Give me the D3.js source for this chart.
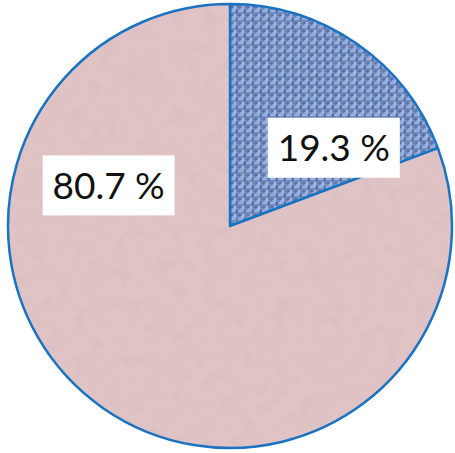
<!DOCTYPE html>
<html>
<head>
<meta charset="utf-8">
<script src="https://cdn.jsdelivr.net/npm/d3@7"></script>
<style>
  body { margin: 0; background: #fff; }
  svg { display: block; }
</style>
</head>
<body>
<div id="chart"></div>
<script>
// data
const categories = ['A', 'B'];
const values = [19.3, 80.7];
const labels = ['19.3 %', '80.7 %'];

// layout
const width = 455, height = 453;
const cx = 230, cy = 226, radius = 222;
// label box placement (angle in degrees from 12 o'clock, distance from centre)
const labelPos = [{angle: 53, dist: 130}, {angle: 288.5, dist: 128}];
const boxW = 132, boxH = 60;

const svg = d3.select('#chart').append('svg')
    .attr('width', width)
    .attr('height', height);

const defs = svg.append('defs');

// woven blue texture
const weave = defs.append('pattern')
    .attr('id', 'weave')
    .attr('patternUnits', 'userSpaceOnUse')
    .attr('width', 8).attr('height', 8);
weave.append('rect').attr('width', 8).attr('height', 8).attr('fill', '#6f89bf');
weave.append('rect').attr('x', 0).attr('y', 0).attr('width', 5).attr('height', 2).attr('fill', '#9bb3e3');
weave.append('rect').attr('x', 4).attr('y', 4).attr('width', 2).attr('height', 4).attr('fill', '#a5bdea');
weave.append('rect').attr('x', 0).attr('y', 4).attr('width', 3).attr('height', 2).attr('fill', '#58729f');
weave.append('rect').attr('x', 6).attr('y', 0).attr('width', 2).attr('height', 3).attr('fill', '#52699a');
weave.append('rect').attr('x', 2).attr('y', 6).attr('width', 2).attr('height', 2).attr('fill', '#8aa3d6');

// blotchy noise filter for a paper/cloth look
function addNoise(id, freq, rgb, alpha) {
    const f = defs.append('filter').attr('id', id)
        .attr('x', 0).attr('y', 0).attr('width', '100%').attr('height', '100%');
    f.append('feTurbulence')
        .attr('type', 'fractalNoise')
        .attr('baseFrequency', freq)
        .attr('numOctaves', 2)
        .attr('seed', 3)
        .attr('result', 'turb');
    f.append('feColorMatrix')
        .attr('in', 'turb')
        .attr('type', 'matrix')
        .attr('values', '0 0 0 0 ' + rgb[0] + '  0 0 0 0 ' + rgb[1] + '  0 0 0 0 ' + rgb[2] + '  0 0 0 -' + alpha + ' ' + (alpha * 0.6))
        .attr('result', 'tint');
    f.append('feComposite').attr('in', 'tint').attr('in2', 'SourceGraphic').attr('operator', 'atop');
}
addNoise('noisePink', 0.07, [0.62, 0.48, 0.50], 0.8);
addNoise('noiseBlue', 0.12, [0.25, 0.33, 0.52], 0.9);

const colors = d3.scaleOrdinal()
    .domain(categories)
    .range(['url(#weave)', '#e0c3c5']);

const pie = d3.pie().sort(null).value(d => d.value);
const arc = d3.arc().innerRadius(0).outerRadius(radius);

const data = categories.map((c, i) => ({category: c, value: values[i], label: labels[i]}));

const g = svg.append('g')
    .attr('transform', 'translate(' + cx + ',' + cy + ')');

const slices = g.selectAll('.slice')
    .data(pie(data))
    .enter().append('g')
    .attr('class', 'slice');

slices.append('path')
    .attr('d', arc)
    .attr('fill', d => colors(d.data.category))
    .attr('filter', d => d.data.category === 'B' ? 'url(#noisePink)' : 'url(#noiseBlue)');

// outline
slices.append('path')
    .attr('d', arc)
    .attr('fill', 'none')
    .attr('stroke', '#1a73c2')
    .attr('stroke-width', 2.5)
    .attr('stroke-linejoin', 'round');

// labels
const lab = g.selectAll('.label')
    .data(data)
    .enter().append('g')
    .attr('class', 'label')
    .attr('transform', (d, i) => {
        const a = labelPos[i].angle * Math.PI / 180;
        const r = labelPos[i].dist;
        return 'translate(' + (r * Math.sin(a)) + ',' + (-r * Math.cos(a)) + ')';
    });

lab.append('rect')
    .attr('x', -boxW / 2)
    .attr('y', -boxH / 2)
    .attr('width', boxW)
    .attr('height', boxH)
    .attr('fill', '#fff');

lab.append('text')
    .attr('text-anchor', 'middle')
    .attr('dy', '0.36em')
    .style('font-family', 'Lato, "Open Sans", sans-serif')
    .style('font-size', '37px')
    .attr('fill', '#111')
    .text(d => d.label);
</script>
</body>
</html>
